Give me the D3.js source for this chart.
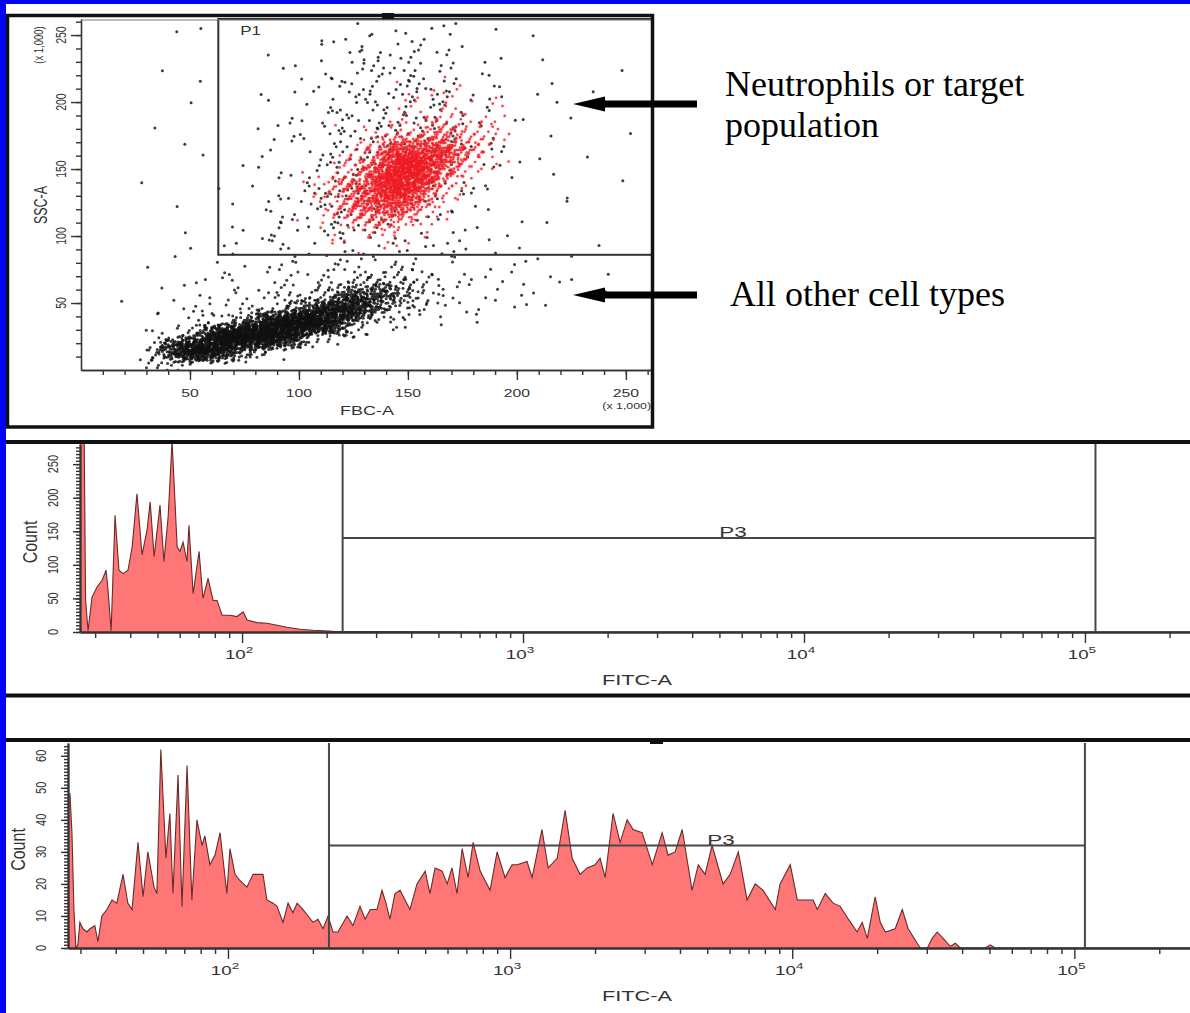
<!DOCTYPE html>
<html>
<head>
<meta charset="utf-8">
<script src="https://cdn.jsdelivr.net/npm/d3@7"></script>
<style>
  html, body { margin: 0; padding: 0; background: #0404f4; }
  svg { display: block; }
</style>
</head>
<body>
<svg id="chart" width="1190" height="1013"></svg>
<script>
// FSC-A / SSC-A dot plot, events per 10x10 (x 1,000) cell.
// Rows run from SSC 250-260 (top) down to 0-10, columns from FSC 0-10 to 250-260.
var otherDensity = [
    "00000100000111211100010000",
    "00001000001122221101000000",
    "00000000010122322110100000",
    "00010000011223332111000001",
    "00000100011233333211010000",
    "00000001011233333221100100",
    "00000100011233333221010000",
    "00010000112333333221001000",
    "00000001012333333221010010",
    "00001000112333333321100000",
    "00000100112333333221010100",
    "00010001122333332211000000",
    "00000010123333322211010010",
    "00001001123333322111001000",
    "00000010222333221110100000",
    "00000101222333221111010000",
    "00001011222222222111100100",
    "00001011122222222111101000",
    "00010112222333332211110100",
    "00001122233345543222111010",
    "00011222334577643221110000",
    "00112233457886432211100000",
    "00012346899853211100000000",
    "00024699985311000000000000",
    "00058986421000000000000000",
    "00143100000000000000000000"
];
var gatedDensity = [
    "00000000000000000000000000",
    "00000000000000000000000000",
    "00000000000000000000000000",
    "00000000000000000000000000",
    "00000000000000111100000000",
    "00000000000000122210000000",
    "00000000000000133321000000",
    "00000000000001234431000000",
    "00000000000013456542000000",
    "00000000000135777641000000",
    "00000000000246887531000000",
    "00000000001357886300000000",
    "00000000001467875200000000",
    "00000000001467763100000000",
    "00000000001356642000000000",
    "00000000001234321000000000",
    "00000000000122110000000000",
    "00000000000000000000000000",
    "00000000000000000000000000",
    "00000000000000000000000000",
    "00000000000000000000000000",
    "00000000000000000000000000",
    "00000000000000000000000000",
    "00000000000000000000000000",
    "00000000000000000000000000",
    "00000000000000000000000000"
];
// dots per cell for each density level
var levelCounts = [0, 1, 2, 4, 9, 18, 38, 75, 140, 240];
var scatterTicks = [50, 100, 150, 200, 250];
var gateP1 = [63, 86];   // lower-left corner, FSC / SSC (x 1,000)

// FITC-A histogram, unstained (log10 FITC, count)
var midLogFitc = [1.424, 1.438, 1.443, 1.452, 1.466, 1.484, 1.502, 1.516, 1.523, 1.534,
    1.548, 1.562, 1.577, 1.594, 1.609, 1.626, 1.644, 1.662, 1.673, 1.687,
    1.708, 1.722, 1.737, 1.751, 1.769, 1.779, 1.790, 1.804, 1.811, 1.826,
    1.847, 1.861, 1.879, 1.897, 1.911, 1.929, 1.957, 1.982, 2.004, 2.018,
    2.053, 2.089, 2.125, 2.160, 2.206, 2.253, 2.324, 2.400, 2.900, 5.374];
var midCount = [300, 300, 48, 2, 52, 67, 77, 92, 62, 2,
    174, 92, 87, 92, 127, 206, 115, 152, 194, 112,
    189, 105, 172, 285, 127, 120, 134, 105, 159, 57,
    120, 50, 80, 47, 47, 25, 25, 23, 30, 18,
    14, 13, 10, 7, 4, 2.5, 1, 0.5, 0, 0];

// FITC-A histogram, stained
var botLogFitc = [1.433, 1.440, 1.447, 1.454, 1.461, 1.468, 1.475, 1.486, 1.500, 1.511,
    1.528, 1.539, 1.553, 1.571, 1.589, 1.606, 1.628, 1.645, 1.660, 1.681,
    1.699, 1.716, 1.738, 1.748, 1.762, 1.780, 1.794, 1.805, 1.823, 1.837,
    1.855, 1.872, 1.890, 1.908, 1.918, 1.936, 1.954, 1.972, 1.996, 2.007,
    2.025, 2.043, 2.067, 2.089, 2.124, 2.138, 2.160, 2.174, 2.195, 2.213,
    2.230, 2.245, 2.266, 2.284, 2.301, 2.319, 2.337, 2.355, 2.372, 2.390,
    2.422, 2.443, 2.468, 2.486, 2.504, 2.528, 2.546, 2.560, 2.574, 2.592,
    2.610, 2.645, 2.670, 2.699, 2.716, 2.734, 2.759, 2.777, 2.794, 2.812,
    2.830, 2.851, 2.869, 2.894, 2.929, 2.954, 2.982, 3.007, 3.025, 3.060,
    3.078, 3.113, 3.135, 3.167, 3.195, 3.220, 3.248, 3.273, 3.301, 3.319,
    3.337, 3.365, 3.390, 3.415, 3.436, 3.468, 3.504, 3.539, 3.560, 3.585,
    3.610, 3.645, 3.667, 3.691, 3.716, 3.755, 3.780, 3.809, 3.840, 3.869,
    3.897, 3.940, 3.957, 3.993, 4.018, 4.035, 4.057, 4.074, 4.089, 4.117,
    4.145, 4.170, 4.199, 4.230, 4.248, 4.266, 4.294, 4.312, 4.330, 4.365,
    4.390, 4.411, 4.443, 4.454, 4.479, 4.496, 4.514, 4.535, 4.560, 4.578,
    4.596, 4.684, 4.702, 4.720, 5.411];
var botCount = [47, 48, 36, 12, 0, 1, 8, 6, 5, 6,
    7, 2, 10, 12, 15, 14, 23, 14, 12, 33,
    16, 30, 19, 17, 62, 28, 42, 17, 54, 13,
    57, 15, 40, 32, 35, 26, 29, 36, 17, 31,
    23, 21, 19, 23, 23, 15, 14, 13, 8, 14,
    11, 14, 12, 10, 8, 9, 6, 10, 5, 5,
    10, 7, 13, 9, 12, 12, 18, 14, 9, 17,
    18, 12, 20, 24, 17, 25, 24, 20, 25, 17,
    31, 22, 33, 24, 18, 30, 22, 26, 26, 27,
    22, 37, 25, 28, 43, 28, 23, 25, 26, 28,
    22, 42, 33, 40, 37, 36, 26, 36, 29, 30,
    37, 18, 26, 23, 32, 20, 23, 30, 15, 20,
    18, 12, 20, 26, 15, 15, 15, 15, 12, 17,
    14, 13, 9, 5, 8, 3, 16, 8, 5, 6,
    12, 6, 1.5, 0, 0, 3, 5, 3, 0.5, 1.5,
    0, 0, 1, 0, 0];

var gateP3Mid = [228, 109000, 140];   // FITC from, FITC to, count level
var gateP3Bot = [228, 109000, 32];
var decadeTicks = [100, 1000, 10000, 100000];
var midCountTicks = [0, 50, 100, 150, 200, 250];
var botCountTicks = [0, 10, 20, 30, 40, 50, 60];

var FONT = '"Liberation Sans", Arial, sans-serif';
var svg = d3.select('#chart');

svg.append('rect').attr('x', 6).attr('y', 4).attr('width', 1184).attr('height', 1009).attr('fill', '#fff');

function label(g, text, x, y, opts) {
    opts = opts || {};
    var tf = 'translate(' + x + ',' + y + ') scale(' + (opts.stretch || 1.5) + ',1)';
    if (opts.rotate) tf += ' rotate(' + opts.rotate + ')';
    var t = g.append('text')
        .attr('transform', tf)
        .attr('text-anchor', opts.anchor || 'middle')
        .attr('font-family', opts.family || FONT)
        .attr('font-size', opts.size || 11)
        .attr('fill', opts.color || '#333')
        .text(text);
    if (opts.rotate) t.attr('dominant-baseline', 'central');
    return t;
}

function decadeLabel(g, value, x, y) {
    var t = label(g, '10', x, y, {size: 12.5});
    t.append('tspan').attr('dy', -6).attr('font-size', 9).text(Math.round(Math.log10(value)));
}

function styleAxis(sel) {
    sel.selectAll('path').attr('stroke', '#333').attr('stroke-width', 1.3);
    sel.selectAll('line').attr('stroke', '#333').attr('stroke-width', 1.4);
}

// Place each cell's events around the cell centre with a tent-shaped spread,
// so neighbouring cells blend (4-d Kronecker / R-sequence, no randomness).
var R4 = [0.8566748839, 0.7338918566, 0.6287067210, 0.5385972572];
function cellDots(grid, cell) {
    var dots = [], k = 0;
    grid.forEach(function(row, r) {
        var rowIndex = grid.length - 1 - r;
        row.split('').forEach(function(ch, c) {
            var n = levelCounts[+ch];
            for (var i = 0; i < n; i++, k++) {
                var q = R4.map(function(a) { return (0.5 + k * a) % 1; });
                dots.push([(c + 0.5 + 1.1 * (q[0] + q[1] - 1)) * cell,
                           (rowIndex + 0.5 + 1.1 * (q[2] + q[3] - 1)) * cell]);
            }
        });
    });
    return dots;
}

var drawScatter = function() {
    var g = svg.append('g');
    var x = d3.scaleLinear().domain([0, 262]).range([81, 652]);
    var y = d3.scaleLinear().domain([0, 262]).range([370, 19]);

    svg.append('clipPath').attr('id', 'scatter-clip').append('rect')
        .attr('x', x(0)).attr('y', y(262)).attr('width', x(262) - x(0)).attr('height', y(0) - y(262));

    var dots = g.append('g').attr('clip-path', 'url(#scatter-clip)');
    var gated = cellDots(gatedDensity, 10);
    dots.selectAll('circle.other').data(cellDots(otherDensity, 10)).enter().append('circle')
        .attr('class', 'other')
        .attr('cx', function(d) { return x(d[0]); })
        .attr('cy', function(d) { return y(d[1]); })
        .attr('r', 1.5)
        .attr('fill', '#111')
        .attr('fill-opacity', 0.82);
    dots.selectAll('circle.haze').data(gated).enter().append('circle')
        .attr('class', 'haze')
        .attr('cx', function(d) { return x(d[0]); })
        .attr('cy', function(d) { return y(d[1]); })
        .attr('r', 2.6)
        .attr('fill', '#ff8a8a')
        .attr('fill-opacity', 0.1);
    dots.selectAll('circle.gated').data(gated).enter().append('circle')
        .attr('class', 'gated')
        .attr('cx', function(d) { return x(d[0]); })
        .attr('cy', function(d) { return y(d[1]); })
        .attr('r', 1.3)
        .attr('fill', '#ee1a22')
        .attr('fill-opacity', 0.82);

    var minor = d3.range(10, 261, 10);
    styleAxis(g.append('g').attr('transform', 'translate(0,' + y(0) + ')')
        .call(d3.axisBottom(x).tickValues(minor).tickSize(5).tickSizeOuter(0).tickFormat('')));
    styleAxis(g.append('g').attr('transform', 'translate(0,' + y(0) + ')')
        .call(d3.axisBottom(x).tickValues(scatterTicks).tickSize(10).tickSizeOuter(0).tickFormat('')));
    styleAxis(g.append('g').attr('transform', 'translate(' + x(0) + ',0)')
        .call(d3.axisLeft(y).tickValues(minor).tickSize(5).tickSizeOuter(0).tickFormat('')));
    styleAxis(g.append('g').attr('transform', 'translate(' + x(0) + ',0)')
        .call(d3.axisLeft(y).tickValues(scatterTicks).tickSize(10).tickSizeOuter(0).tickFormat('')));

    scatterTicks.forEach(function(v) {
        label(g, v, x(v), 397, {size: 10.5});
        label(g, v, 61, y(v), {size: 10.5, rotate: -90, stretch: 1.4});
    });
    label(g, 'FBC-A', 367, 415, {size: 12});
    label(g, '(x 1,000)', 651, 409, {size: 9.5, anchor: 'end', stretch: 1.3});
    label(g, '(x 1,000)', 39, 45, {size: 9.5, rotate: -90, stretch: 1.3});
    label(g, 'SSC-A', 41, 205, {size: 12.5, rotate: -90, stretch: 1.4});

    // gate P1
    g.append('rect')
        .attr('x', x(gateP1[0])).attr('y', y(262))
        .attr('width', x(262) - x(gateP1[0])).attr('height', y(gateP1[1]) - y(262))
        .attr('fill', 'none').attr('stroke', '#333').attr('stroke-width', 2);
    label(g, 'P1', x(gateP1[0]) + 22, 35, {size: 13, anchor: 'start', stretch: 1.3});

    g.append('line').attr('x1', x(0)).attr('x2', x(262)).attr('y1', 20).attr('y2', 20)
        .attr('stroke', '#777').attr('stroke-width', 1);
    g.append('rect').attr('x', 7.5).attr('y', 15.5).attr('width', 645).attr('height', 411.5)
        .attr('fill', 'none').attr('stroke', '#111').attr('stroke-width', 3.5);
    g.append('rect').attr('x', 382).attr('y', 13).attr('width', 12).attr('height', 6).attr('fill', '#111');
};

var drawHistogram = function(p) {
    var g = svg.append('g');
    var x = d3.scaleLog().domain(p.xDomain).range([p.left, 1190]);
    var y = d3.scaleLinear().domain([0, p.yMax]).range([p.base, p.top]);
    var id = 'clip-' + p.name;

    svg.append('clipPath').attr('id', id).append('rect')
        .attr('x', p.left).attr('y', p.top).attr('width', 1190 - p.left).attr('height', p.base - p.top);

    var rows = d3.zip(p.logFitc, p.counts);
    var fx = function(d) { return x(Math.pow(10, d[0])); };
    var fy = function(d) { return y(d[1]); };
    g.append('path').datum(rows).attr('clip-path', 'url(#' + id + ')')
        .attr('fill', '#ff7676')
        .attr('d', d3.area().x(fx).y0(y(0)).y1(fy));
    g.append('path').datum(rows).attr('clip-path', 'url(#' + id + ')')
        .attr('fill', 'none').attr('stroke', '#6a2a2a').attr('stroke-width', 1.1)
        .attr('d', d3.line().x(fx).y(fy));

    var minor = x.ticks().filter(function(v) { return decadeTicks.indexOf(v) < 0; });
    styleAxis(g.append('g').attr('transform', 'translate(0,' + p.base + ')')
        .call(d3.axisBottom(x).tickValues(minor).tickSize(6).tickSizeOuter(0).tickFormat('')));
    styleAxis(g.append('g').attr('transform', 'translate(0,' + p.base + ')')
        .call(d3.axisBottom(x).tickValues(decadeTicks).tickSize(11).tickSizeOuter(0).tickFormat('')));
    styleAxis(g.append('g').attr('transform', 'translate(' + p.left + ',0)')
        .call(d3.axisLeft(y).tickValues(d3.range(0, p.yMax, p.minorStep)).tickSize(4).tickSizeOuter(0).tickFormat('')));
    styleAxis(g.append('g').attr('transform', 'translate(' + p.left + ',0)')
        .call(d3.axisLeft(y).tickValues(p.countTicks).tickSize(7).tickSizeOuter(0).tickFormat('')));
    g.selectAll('.domain').attr('stroke-width', 1.8);

    decadeTicks.forEach(function(v) { decadeLabel(g, v, x(v) - 3, p.base + 27); });
    p.countTicks.forEach(function(v) {
        label(g, v, p.left - 27, y(v), {size: 11, rotate: -90, stretch: 1.4});
    });
    label(g, 'Count', p.left - 50, (p.base + p.top) / 2 + 4, {size: 16, rotate: -90, stretch: 1.3});
    label(g, 'FITC-A', 637, p.base + 53, {size: 14.5});

    // gate P3
    var gx0 = x(p.gate[0]), gx1 = x(p.gate[1]), gy = y(p.gate[2]);
    g.append('path')
        .attr('d', 'M' + gx0 + ',' + p.top + 'V' + p.base + 'M' + gx0 + ',' + gy + 'H' + gx1 +
                   'M' + gx1 + ',' + p.top + 'V' + p.base)
        .attr('fill', 'none').attr('stroke', '#474747').attr('stroke-width', 2);
    label(g, 'P3', (gx0 + gx1) / 2 + 14, gy - 1, {size: 15});
};

drawScatter();

drawHistogram({name: 'mid', logFitc: midLogFitc, counts: midCount, xDomain: [26.5, 236500],
    left: 80, top: 444, base: 632, yMax: 280, minorStep: 5, countTicks: midCountTicks, gate: gateP3Mid});
drawHistogram({name: 'bot', logFitc: botLogFitc, counts: botCount, xDomain: [27.1, 257000],
    left: 68, top: 743, base: 948, yMax: 64, minorStep: 1, countTicks: botCountTicks, gate: gateP3Bot});

// panel borders
var borders = svg.append('g').attr('stroke', '#111').attr('stroke-width', 4);
borders.append('line').attr('x1', 6).attr('x2', 1190).attr('y1', 442).attr('y2', 442);
borders.append('line').attr('x1', 6).attr('x2', 1190).attr('y1', 695.5).attr('y2', 695.5);
borders.append('line').attr('x1', 6).attr('x2', 1190).attr('y1', 740).attr('y2', 740);
svg.append('rect').attr('x', 650).attr('y', 738).attr('width', 13).attr('height', 6).attr('fill', '#111');

// annotations
function arrowPath(tipX, tipY, endX) {
    var head = 32, hw = 7.5, sw = 3.5;
    return 'M' + tipX + ',' + tipY +
        'L' + (tipX + head) + ',' + (tipY - hw) + 'L' + (tipX + head) + ',' + (tipY - sw) +
        'L' + endX + ',' + (tipY - sw) + 'L' + endX + ',' + (tipY + sw) +
        'L' + (tipX + head) + ',' + (tipY + sw) + 'L' + (tipX + head) + ',' + (tipY + hw) + 'Z';
}
var notes = svg.append('g');
notes.append('path').attr('d', arrowPath(573, 104, 697)).attr('fill', '#000');
notes.append('path').attr('d', arrowPath(573, 295, 697)).attr('fill', '#000');
var serif = {size: 36, anchor: 'start', stretch: 1, family: '"Liberation Serif", "Times New Roman", serif', color: '#000'};
label(notes, 'Neutrophils or target', 725, 96, serif);
label(notes, 'population', 725, 137, serif);
label(notes, 'All other cell types', 730, 306, serif);
</script>
</body>
</html>
